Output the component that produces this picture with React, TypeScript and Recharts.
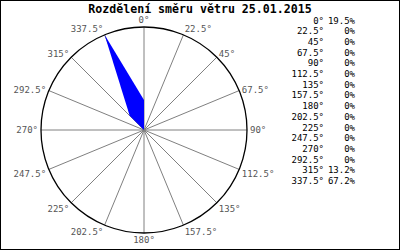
import React from 'react';
import { RadarChart, Radar, PolarGrid, PolarAngleAxis, PolarRadiusAxis } from 'recharts';

const directions = ['0°', '22.5°', '45°', '67.5°', '90°', '112.5°', '135°', '157.5°', '180°', '202.5°', '225°', '247.5°', '270°', '292.5°', '315°', '337.5°'];
const frequencies = [19.5, 0, 0, 0, 0, 0, 0, 0, 0, 0, 0, 0, 0, 0, 13.2, 67.2];
const chartTitle = 'Rozdělení směru větru 25.01.2015';

const data = directions.map((d, i) => ({ direction: d, freq: frequencies[i] }));
const maxFreq = Math.max(...frequencies);

const CENTER_X = 144;
const CENTER_Y = 130;
const OUTER_R = 103;

const MONO = '"DejaVu Sans Mono", "Liberation Mono", monospace';

function AngleTick(props: any) {
  const { payload } = props;
  const cx = typeof props.cx === 'number' ? props.cx : CENTER_X;
  const cy = typeof props.cy === 'number' ? props.cy : CENTER_Y;
  const r = typeof props.radius === 'number' ? props.radius : OUTER_R;
  const a = (payload.coordinate * Math.PI) / 180;
  const east = Math.cos(a);
  const north = Math.sin(a);
  const px = cx + r * east;
  const py = cy - r * north;
  const mid = Math.abs(east) < 1e-3;
  const anchor = mid ? 'middle' : east > 0 ? 'start' : 'end';
  const dx = mid ? 0 : Math.sign(east) * (1 + 2 * east * east);
  const dy = north > 0 ? -7 * north * north : 7 * Math.sqrt(-north);
  return (
    <text
      x={px + dx}
      y={py + dy}
      dy="0.35em"
      textAnchor={anchor}
      fill="#555555"
      fontFamily={MONO}
      fontSize={9}
    >
      {payload.value}
    </text>
  );
}

export default function App() {
  return (
    <div style={{ position: 'absolute', left: 0, top: 0, width: 400, height: 250, background: '#fff' }}>
      <RadarChart
        width={400}
        height={250}
        data={data}
        cx={CENTER_X}
        cy={CENTER_Y}
        outerRadius={OUTER_R}
        margin={{ top: 0, right: 0, bottom: 0, left: 0 }}
      >
        <PolarGrid polarRadius={[]} stroke="#808080" strokeWidth={1} />
        <PolarAngleAxis dataKey="direction" axisLine={false} tickLine={false} tick={<AngleTick />} />
        <PolarRadiusAxis domain={[0, maxFreq]} tick={false} axisLine={false} />
        <PolarGrid gridType="circle" radialLines={false} polarRadius={[OUTER_R]} stroke="#000" strokeWidth={1.3} />
        <Radar dataKey="freq" fill="#0000ff" fillOpacity={1} stroke="none" dot={false} isAnimationActive={false} />
      </RadarChart>
      <div
        style={{
          position: 'absolute',
          left: 0,
          top: 2,
          width: 400,
          textAlign: 'center',
          fontFamily: MONO,
          fontWeight: 'bold',
          fontSize: 11.6,
          lineHeight: '14px',
          color: '#000',
        }}
      >
        {chartTitle}
      </div>
      <div style={{ position: 'absolute', left: 290, top: 21 - 5.35, fontFamily: MONO, fontSize: 9, color: '#000' }}>
        {directions.map((d, i) => (
          <div key={d} style={{ display: 'flex', height: 10.7, lineHeight: '10.7px' }}>
            <span style={{ width: 34, textAlign: 'right' }}>{d}</span>
            <span style={{ width: 31, textAlign: 'right' }}>{frequencies[i]}%</span>
          </div>
        ))}
      </div>
      <div
        style={{
          position: 'absolute',
          left: 0,
          top: 0,
          width: 400,
          height: 250,
          border: '1px solid #000',
          boxSizing: 'border-box',
          pointerEvents: 'none',
        }}
      />
    </div>
  );
}
